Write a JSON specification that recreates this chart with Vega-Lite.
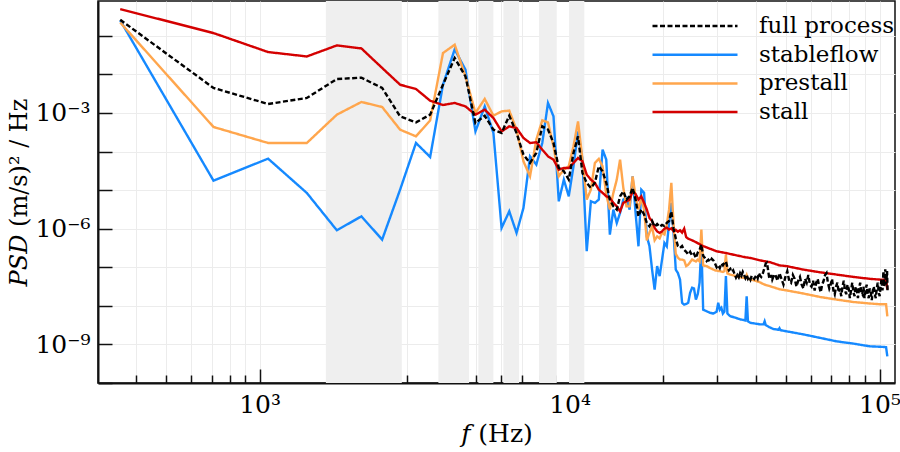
{
"$schema":"https://vega.github.io/schema/vega-lite/v6.json",
"autosize":{"type":"none"},
"width":797,"height":382,
"padding":{"left":98,"top":1,"right":5,"bottom":69},
"background":"white",
"config":{"view":{"stroke":"#111","strokeWidth":1.5},"font":"DejaVu Serif"},
"datasets":{
"bands":[{"a":1636,"b":2876},{"a":3774,"b":4740},{"a":5080,"b":5678},{"a":6116,"b":6873},{"a":7972,"b":9093},{"a":9963,"b":11160}],
"psd":[
{"s":"stableflow","f":355,"p":2.51e-1},{"s":"stableflow","f":710,"p":1.76e-5},{"s":"stableflow","f":1065,"p":6.55e-5},{"s":"stableflow","f":1420,"p":8.45e-6},{"s":"stableflow","f":1775,"p":9.10e-7},{"s":"stableflow","f":2130,"p":2.09e-6},{"s":"stableflow","f":2485,"p":5.22e-7},{"s":"stableflow","f":2840,"p":1.03e-5},{"s":"stableflow","f":3195,"p":1.67e-4},{"s":"stableflow","f":3550,"p":7.24e-5},{"s":"stableflow","f":3905,"p":5.41e-3},{"s":"stableflow","f":4260,"p":4.47e-2},{"s":"stableflow","f":4615,"p":1.32e-2},{"s":"stableflow","f":4970,"p":3.34e-4},{"s":"stableflow","f":5325,"p":1.48e-3},{"s":"stableflow","f":5680,"p":3.03e-4},{"s":"stableflow","f":6035,"p":1.05e-6},{"s":"stableflow","f":6390,"p":2.82e-6},{"s":"stableflow","f":6745,"p":7.78e-7},{"s":"stableflow","f":7100,"p":3.46e-6},{"s":"stableflow","f":7455,"p":7.52e-5},{"s":"stableflow","f":7810,"p":4.58e-5},{"s":"stableflow","f":8165,"p":1.67e-4},{"s":"stableflow","f":8520,"p":1.82e-3},{"s":"stableflow","f":8875,"p":8.17e-4},{"s":"stableflow","f":9230,"p":5.13e-6},{"s":"stableflow","f":9585,"p":1.87e-5},{"s":"stableflow","f":9940,"p":6.92e-6},{"s":"stableflow","f":10295,"p":4.14e-5},{"s":"stableflow","f":10650,"p":3.33e-4},{"s":"stableflow","f":11005,"p":6.17e-5},{"s":"stableflow","f":11360,"p":2.60e-7},{"s":"stableflow","f":11715,"p":5.13e-6},{"s":"stableflow","f":12070,"p":4.68e-6},{"s":"stableflow","f":12425,"p":5.68e-6},{"s":"stableflow","f":12780,"p":1.12e-4},{"s":"stableflow","f":13135,"p":6.17e-5},{"s":"stableflow","f":13490,"p":7.03e-7},{"s":"stableflow","f":13845,"p":3.13e-6},{"s":"stableflow","f":14200,"p":1.41e-6},{"s":"stableflow","f":14555,"p":2.57e-6},{"s":"stableflow","f":14910,"p":5.68e-6},{"s":"stableflow","f":15265,"p":6.31e-6},{"s":"stableflow","f":15620,"p":3.13e-6},{"s":"stableflow","f":15975,"p":2.28e-5},{"s":"stableflow","f":16330,"p":2.57e-6},{"s":"stableflow","f":16685,"p":3.50e-7},{"s":"stableflow","f":17040,"p":1.02e-5},{"s":"stableflow","f":17395,"p":8.51e-6},{"s":"stableflow","f":17750,"p":6.31e-7},{"s":"stableflow","f":18105,"p":3.55e-7},{"s":"stableflow","f":18460,"p":8.71e-8},{"s":"stableflow","f":18815,"p":2.63e-8},{"s":"stableflow","f":19170,"p":1.07e-7},{"s":"stableflow","f":19525,"p":5.89e-8},{"s":"stableflow","f":19880,"p":1.58e-7},{"s":"stableflow","f":20235,"p":4.27e-7},{"s":"stableflow","f":20590,"p":3.50e-7},{"s":"stableflow","f":20945,"p":1.41e-6},{"s":"stableflow","f":21300,"p":4.68e-6},{"s":"stableflow","f":21655,"p":7.76e-7},{"s":"stableflow","f":22010,"p":8.71e-8},{"s":"stableflow","f":22365,"p":7.08e-8},{"s":"stableflow","f":22720,"p":4.79e-8},{"s":"stableflow","f":23075,"p":1.20e-8},{"s":"stableflow","f":23430,"p":1.07e-8},{"s":"stableflow","f":23785,"p":1.12e-8},{"s":"stableflow","f":24140,"p":1.20e-8},{"s":"stableflow","f":24495,"p":2.19e-8},{"s":"stableflow","f":24850,"p":2.95e-8},{"s":"stableflow","f":25205,"p":2.82e-8},{"s":"stableflow","f":25560,"p":1.45e-8},{"s":"stableflow","f":25915,"p":2.00e-8},{"s":"stableflow","f":26270,"p":3.98e-8},{"s":"stableflow","f":26625,"p":3.98e-7},{"s":"stableflow","f":26980,"p":7.94e-9},{"s":"stableflow","f":27690,"p":7.24e-9},{"s":"stableflow","f":28400,"p":6.61e-9},{"s":"stableflow","f":29110,"p":6.31e-9},{"s":"stableflow","f":29820,"p":7.08e-9},{"s":"stableflow","f":30175,"p":1.20e-8},{"s":"stableflow","f":30530,"p":7.94e-9},{"s":"stableflow","f":30885,"p":8.91e-9},{"s":"stableflow","f":31240,"p":6.31e-9},{"s":"stableflow","f":31595,"p":7.08e-9},{"s":"stableflow","f":31950,"p":5.89e-8},{"s":"stableflow","f":32305,"p":6.31e-9},{"s":"stableflow","f":33015,"p":5.37e-9},{"s":"stableflow","f":34080,"p":5.01e-9},{"s":"stableflow","f":35500,"p":4.47e-9},{"s":"stableflow","f":36565,"p":4.27e-9},{"s":"stableflow","f":36920,"p":4.17e-9},{"s":"stableflow","f":37275,"p":1.78e-8},{"s":"stableflow","f":37630,"p":3.98e-9},{"s":"stableflow","f":38340,"p":3.63e-9},{"s":"stableflow","f":39760,"p":3.47e-9},{"s":"stableflow","f":41180,"p":3.31e-9},{"s":"stableflow","f":42245,"p":3.31e-9},{"s":"stableflow","f":42600,"p":3.98e-9},{"s":"stableflow","f":42955,"p":3.16e-9},{"s":"stableflow","f":44020,"p":2.82e-9},{"s":"stableflow","f":45440,"p":2.51e-9},{"s":"stableflow","f":47215,"p":2.40e-9},{"s":"stableflow","f":47570,"p":2.63e-9},{"s":"stableflow","f":47925,"p":2.34e-9},{"s":"stableflow","f":56780,"p":1.82e-9},{"s":"stableflow","f":64280,"p":1.48e-9},{"s":"stableflow","f":72780,"p":1.20e-9},{"s":"stableflow","f":82330,"p":1.05e-9},{"s":"stableflow","f":93190,"p":8.91e-10},{"s":"stableflow","f":100400,"p":8.71e-10},{"s":"stableflow","f":105000,"p":8.51e-10},{"s":"stableflow","f":106000,"p":4.90e-10},
{"s":"prestall","f":355,"p":2.22e-1},{"s":"prestall","f":710,"p":4.34e-4},{"s":"prestall","f":1065,"p":1.67e-4},{"s":"prestall","f":1420,"p":1.67e-4},{"s":"prestall","f":1775,"p":9.04e-4},{"s":"prestall","f":2130,"p":1.93e-3},{"s":"prestall","f":2485,"p":1.43e-3},{"s":"prestall","f":2840,"p":3.69e-4},{"s":"prestall","f":3195,"p":2.48e-4},{"s":"prestall","f":3550,"p":6.43e-4},{"s":"prestall","f":3905,"p":3.58e-2},{"s":"prestall","f":4260,"p":5.89e-2},{"s":"prestall","f":4615,"p":8.91e-3},{"s":"prestall","f":4970,"p":1.00e-3},{"s":"prestall","f":5325,"p":2.31e-3},{"s":"prestall","f":5680,"p":8.51e-4},{"s":"prestall","f":6035,"p":1.10e-3},{"s":"prestall","f":6390,"p":1.15e-3},{"s":"prestall","f":6745,"p":3.69e-4},{"s":"prestall","f":7100,"p":5.58e-5},{"s":"prestall","f":7455,"p":2.28e-5},{"s":"prestall","f":7810,"p":2.03e-4},{"s":"prestall","f":8165,"p":6.43e-4},{"s":"prestall","f":8520,"p":5.70e-4},{"s":"prestall","f":8875,"p":1.36e-4},{"s":"prestall","f":9230,"p":2.29e-5},{"s":"prestall","f":9585,"p":3.39e-5},{"s":"prestall","f":9940,"p":4.17e-5},{"s":"prestall","f":10295,"p":1.36e-4},{"s":"prestall","f":10650,"p":6.05e-4},{"s":"prestall","f":11005,"p":6.17e-5},{"s":"prestall","f":11360,"p":5.68e-6},{"s":"prestall","f":11715,"p":1.03e-5},{"s":"prestall","f":12070,"p":5.07e-5},{"s":"prestall","f":12425,"p":6.46e-5},{"s":"prestall","f":12780,"p":4.14e-5},{"s":"prestall","f":13135,"p":7.64e-6},{"s":"prestall","f":13490,"p":3.13e-6},{"s":"prestall","f":13845,"p":8.45e-6},{"s":"prestall","f":14200,"p":1.87e-5},{"s":"prestall","f":14555,"p":6.17e-5},{"s":"prestall","f":14910,"p":1.14e-5},{"s":"prestall","f":15265,"p":3.80e-6},{"s":"prestall","f":15620,"p":3.80e-6},{"s":"prestall","f":15975,"p":2.28e-5},{"s":"prestall","f":16330,"p":6.92e-6},{"s":"prestall","f":16685,"p":3.13e-6},{"s":"prestall","f":17040,"p":6.31e-6},{"s":"prestall","f":17395,"p":3.16e-6},{"s":"prestall","f":17750,"p":5.01e-7},{"s":"prestall","f":18105,"p":7.94e-7},{"s":"prestall","f":18460,"p":1.12e-6},{"s":"prestall","f":18815,"p":5.01e-7},{"s":"prestall","f":19170,"p":6.31e-7},{"s":"prestall","f":19525,"p":5.62e-7},{"s":"prestall","f":19880,"p":7.94e-7},{"s":"prestall","f":20235,"p":7.08e-7},{"s":"prestall","f":20590,"p":1.26e-6},{"s":"prestall","f":20945,"p":3.16e-6},{"s":"prestall","f":21300,"p":1.55e-5},{"s":"prestall","f":21655,"p":1.26e-6},{"s":"prestall","f":22010,"p":2.24e-7},{"s":"prestall","f":22365,"p":1.78e-7},{"s":"prestall","f":22720,"p":1.58e-7},{"s":"prestall","f":23075,"p":1.58e-7},{"s":"prestall","f":23430,"p":1.51e-7},{"s":"prestall","f":23785,"p":1.07e-7},{"s":"prestall","f":24140,"p":1.17e-7},{"s":"prestall","f":24850,"p":1.58e-7},{"s":"prestall","f":25560,"p":1.41e-7},{"s":"prestall","f":25915,"p":1.58e-7},{"s":"prestall","f":26270,"p":1.41e-7},{"s":"prestall","f":26625,"p":9.55e-7},{"s":"prestall","f":26980,"p":1.12e-7},{"s":"prestall","f":27690,"p":1.07e-7},{"s":"prestall","f":28400,"p":9.55e-8},{"s":"prestall","f":29465,"p":8.32e-8},{"s":"prestall","f":30530,"p":7.94e-8},{"s":"prestall","f":31240,"p":7.59e-8},{"s":"prestall","f":31595,"p":7.94e-8},{"s":"prestall","f":31950,"p":2.14e-7},{"s":"prestall","f":32305,"p":6.92e-8},{"s":"prestall","f":33015,"p":6.46e-8},{"s":"prestall","f":34080,"p":6.03e-8},{"s":"prestall","f":35500,"p":5.50e-8},{"s":"prestall","f":36920,"p":5.25e-8},{"s":"prestall","f":37275,"p":6.31e-8},{"s":"prestall","f":37630,"p":5.01e-8},{"s":"prestall","f":39050,"p":4.68e-8},{"s":"prestall","f":40825,"p":4.17e-8},{"s":"prestall","f":42600,"p":3.55e-8},{"s":"prestall","f":44730,"p":3.16e-8},{"s":"prestall","f":47570,"p":2.69e-8},{"s":"prestall","f":50190,"p":2.51e-8},{"s":"prestall","f":56780,"p":2.09e-8},{"s":"prestall","f":64280,"p":1.70e-8},{"s":"prestall","f":72780,"p":1.45e-8},{"s":"prestall","f":82330,"p":1.26e-8},{"s":"prestall","f":93190,"p":1.15e-8},{"s":"prestall","f":100400,"p":1.10e-8},{"s":"prestall","f":105000,"p":1.10e-8},{"s":"prestall","f":106000,"p":5.37e-9},
{"s":"stall","f":355,"p":4.94e-1},{"s":"stall","f":710,"p":1.18e-1},{"s":"stall","f":1065,"p":3.80e-2},{"s":"stall","f":1420,"p":2.92e-2},{"s":"stall","f":1775,"p":5.64e-2},{"s":"stall","f":2130,"p":4.72e-2},{"s":"stall","f":2485,"p":1.47e-2},{"s":"stall","f":2840,"p":5.41e-3},{"s":"stall","f":3195,"p":4.19e-3},{"s":"stall","f":3550,"p":2.08e-3},{"s":"stall","f":3905,"p":1.61e-3},{"s":"stall","f":4260,"p":1.82e-3},{"s":"stall","f":4615,"p":1.48e-3},{"s":"stall","f":4970,"p":9.04e-4},{"s":"stall","f":5325,"p":1.22e-3},{"s":"stall","f":5680,"p":7.41e-4},{"s":"stall","f":6035,"p":3.33e-4},{"s":"stall","f":6390,"p":4.50e-4},{"s":"stall","f":6745,"p":4.08e-4},{"s":"stall","f":7100,"p":2.25e-4},{"s":"stall","f":7455,"p":1.67e-4},{"s":"stall","f":7810,"p":1.74e-4},{"s":"stall","f":8165,"p":1.12e-4},{"s":"stall","f":8520,"p":7.52e-5},{"s":"stall","f":8875,"p":6.17e-5},{"s":"stall","f":9230,"p":3.39e-5},{"s":"stall","f":9585,"p":3.76e-5},{"s":"stall","f":9940,"p":3.76e-5},{"s":"stall","f":10295,"p":5.07e-5},{"s":"stall","f":10650,"p":6.82e-5},{"s":"stall","f":11005,"p":5.58e-5},{"s":"stall","f":11360,"p":2.51e-5},{"s":"stall","f":11715,"p":1.87e-5},{"s":"stall","f":12070,"p":1.54e-5},{"s":"stall","f":12425,"p":1.03e-5},{"s":"stall","f":12780,"p":8.51e-6},{"s":"stall","f":13135,"p":6.92e-6},{"s":"stall","f":13490,"p":6.31e-6},{"s":"stall","f":13845,"p":4.68e-6},{"s":"stall","f":14200,"p":3.80e-6},{"s":"stall","f":14555,"p":2.82e-6},{"s":"stall","f":14910,"p":4.68e-6},{"s":"stall","f":15265,"p":5.13e-6},{"s":"stall","f":15620,"p":5.68e-6},{"s":"stall","f":15975,"p":9.33e-6},{"s":"stall","f":16330,"p":7.94e-6},{"s":"stall","f":16685,"p":5.68e-6},{"s":"stall","f":17040,"p":6.92e-6},{"s":"stall","f":17395,"p":4.68e-6},{"s":"stall","f":17750,"p":3.16e-6},{"s":"stall","f":18105,"p":1.91e-6},{"s":"stall","f":18460,"p":1.58e-6},{"s":"stall","f":18815,"p":1.05e-6},{"s":"stall","f":19170,"p":8.51e-7},{"s":"stall","f":19525,"p":7.76e-7},{"s":"stall","f":19880,"p":8.51e-7},{"s":"stall","f":20235,"p":1.00e-6},{"s":"stall","f":20590,"p":1.07e-6},{"s":"stall","f":20945,"p":9.55e-7},{"s":"stall","f":21300,"p":1.02e-6},{"s":"stall","f":21655,"p":8.51e-7},{"s":"stall","f":22010,"p":9.33e-7},{"s":"stall","f":22365,"p":8.32e-7},{"s":"stall","f":22720,"p":9.12e-7},{"s":"stall","f":23075,"p":7.94e-7},{"s":"stall","f":23430,"p":1.00e-6},{"s":"stall","f":23785,"p":6.03e-7},{"s":"stall","f":24140,"p":5.50e-7},{"s":"stall","f":24850,"p":5.01e-7},{"s":"stall","f":25560,"p":4.47e-7},{"s":"stall","f":26270,"p":3.98e-7},{"s":"stall","f":26980,"p":3.55e-7},{"s":"stall","f":28400,"p":3.02e-7},{"s":"stall","f":29820,"p":2.60e-7},{"s":"stall","f":31950,"p":2.34e-7},{"s":"stall","f":34080,"p":2.09e-7},{"s":"stall","f":36920,"p":1.82e-7},{"s":"stall","f":38340,"p":1.74e-7},{"s":"stall","f":41180,"p":1.51e-7},{"s":"stall","f":44375,"p":1.35e-7},{"s":"stall","f":47570,"p":1.12e-7},{"s":"stall","f":50190,"p":1.07e-7},{"s":"stall","f":56780,"p":8.71e-8},{"s":"stall","f":64280,"p":7.41e-8},{"s":"stall","f":72780,"p":6.46e-8},{"s":"stall","f":82330,"p":5.62e-8},{"s":"stall","f":93190,"p":5.01e-8},{"s":"stall","f":100400,"p":4.79e-8},{"s":"stall","f":105000,"p":4.79e-8},{"s":"stall","f":106000,"p":2.63e-8},
{"s":"full process","f":355,"p":2.61e-1},{"s":"full process","f":710,"p":4.45e-3},{"s":"full process","f":1065,"p":1.71e-3},{"s":"full process","f":1420,"p":2.45e-3},{"s":"full process","f":1775,"p":7.60e-3},{"s":"full process","f":2130,"p":8.22e-3},{"s":"full process","f":2485,"p":4.45e-3},{"s":"full process","f":2840,"p":8.17e-4},{"s":"full process","f":3195,"p":5.70e-4},{"s":"full process","f":3550,"p":9.04e-4},{"s":"full process","f":3905,"p":5.41e-3},{"s":"full process","f":4260,"p":2.66e-2},{"s":"full process","f":4615,"p":8.91e-3},{"s":"full process","f":4970,"p":5.50e-4},{"s":"full process","f":5325,"p":8.51e-4},{"s":"full process","f":5680,"p":3.69e-4},{"s":"full process","f":6035,"p":3.03e-4},{"s":"full process","f":6390,"p":8.51e-4},{"s":"full process","f":6745,"p":3.02e-4},{"s":"full process","f":7100,"p":8.32e-5},{"s":"full process","f":7455,"p":5.07e-5},{"s":"full process","f":7810,"p":9.20e-5},{"s":"full process","f":8165,"p":4.50e-4},{"s":"full process","f":8520,"p":3.72e-4},{"s":"full process","f":8875,"p":1.67e-4},{"s":"full process","f":9230,"p":3.80e-5},{"s":"full process","f":9585,"p":3.09e-5},{"s":"full process","f":9940,"p":1.87e-5},{"s":"full process","f":10295,"p":9.20e-5},{"s":"full process","f":10650,"p":2.48e-4},{"s":"full process","f":11005,"p":2.79e-5},{"s":"full process","f":11360,"p":1.54e-5},{"s":"full process","f":11715,"p":1.14e-5},{"s":"full process","f":12070,"p":1.55e-5},{"s":"full process","f":12425,"p":4.14e-5},{"s":"full process","f":12780,"p":3.09e-5},{"s":"full process","f":13135,"p":1.55e-5},{"s":"full process","f":13490,"p":5.68e-6},{"s":"full process","f":13845,"p":3.80e-6},{"s":"full process","f":14200,"p":3.13e-6},{"s":"full process","f":14555,"p":6.92e-6},{"s":"full process","f":14910,"p":9.33e-6},{"s":"full process","f":15265,"p":5.68e-6},{"s":"full process","f":15620,"p":6.92e-6},{"s":"full process","f":15975,"p":1.15e-5},{"s":"full process","f":16330,"p":5.68e-6},{"s":"full process","f":16685,"p":2.09e-6},{"s":"full process","f":17040,"p":3.16e-6},{"s":"full process","f":17395,"p":2.34e-6},{"s":"full process","f":17750,"p":1.41e-6},{"s":"full process","f":18105,"p":1.15e-6},{"s":"full process","f":18460,"p":1.58e-6},{"s":"full process","f":18815,"p":1.12e-6},{"s":"full process","f":19170,"p":1.32e-6},{"s":"full process","f":19525,"p":1.12e-6},{"s":"full process","f":19880,"p":1.26e-6},{"s":"full process","f":20235,"p":1.17e-6},{"s":"full process","f":20590,"p":1.41e-6},{"s":"full process","f":20945,"p":1.58e-6},{"s":"full process","f":21300,"p":2.82e-6},{"s":"full process","f":21655,"p":1.00e-6},{"s":"full process","f":22010,"p":5.62e-7},{"s":"full process","f":22365,"p":3.55e-7},{"s":"full process","f":22720,"p":3.16e-7},{"s":"full process","f":23075,"p":3.55e-7},{"s":"full process","f":23430,"p":2.82e-7},{"s":"full process","f":23785,"p":2.51e-7},{"s":"full process","f":24140,"p":2.14e-7},{"s":"full process","f":24495,"p":2.51e-7},{"s":"full process","f":24850,"p":2.00e-7},{"s":"full process","f":25205,"p":2.24e-7},{"s":"full process","f":25560,"p":1.74e-7},{"s":"full process","f":25915,"p":2.40e-7},{"s":"full process","f":26270,"p":2.82e-7},{"s":"full process","f":26625,"p":3.89e-7},{"s":"full process","f":26980,"p":2.00e-7},{"s":"full process","f":27335,"p":1.74e-7},{"s":"full process","f":27690,"p":1.45e-7},{"s":"full process","f":28045,"p":1.58e-7},{"s":"full process","f":28400,"p":1.38e-7},{"s":"full process","f":28755,"p":1.66e-7},{"s":"full process","f":29110,"p":1.51e-7},{"s":"full process","f":29465,"p":1.26e-7},{"s":"full process","f":29820,"p":1.00e-7},{"s":"full process","f":30175,"p":1.12e-7},{"s":"full process","f":30530,"p":9.55e-8},{"s":"full process","f":30885,"p":1.26e-7},{"s":"full process","f":31240,"p":1.12e-7},{"s":"full process","f":31595,"p":1.32e-7},{"s":"full process","f":31950,"p":1.41e-7},{"s":"full process","f":32305,"p":1.00e-7},{"s":"full process","f":32660,"p":8.32e-8},{"s":"full process","f":33015,"p":9.12e-8},{"s":"full process","f":33370,"p":7.59e-8},{"s":"full process","f":33725,"p":8.32e-8},{"s":"full process","f":34080,"p":6.61e-8},{"s":"full process","f":34435,"p":5.37e-8},{"s":"full process","f":34790,"p":6.31e-8},{"s":"full process","f":35145,"p":5.50e-8},{"s":"full process","f":35500,"p":7.08e-8},{"s":"full process","f":35855,"p":6.03e-8},{"s":"full process","f":36210,"p":7.59e-8},{"s":"full process","f":36565,"p":6.31e-8},{"s":"full process","f":36920,"p":5.25e-8},{"s":"full process","f":37275,"p":6.31e-8},{"s":"full process","f":37630,"p":5.01e-8},{"s":"full process","f":37985,"p":5.62e-8},{"s":"full process","f":38340,"p":4.79e-8},{"s":"full process","f":38695,"p":6.03e-8},{"s":"full process","f":39050,"p":5.50e-8},{"s":"full process","f":39405,"p":5.01e-8},{"s":"full process","f":39760,"p":5.62e-8},{"s":"full process","f":40115,"p":6.31e-8},{"s":"full process","f":40470,"p":5.25e-8},{"s":"full process","f":40825,"p":7.08e-8},{"s":"full process","f":41180,"p":6.03e-8},{"s":"full process","f":41535,"p":5.62e-8},{"s":"full process","f":41890,"p":6.31e-8},{"s":"full process","f":42245,"p":7.94e-8},{"s":"full process","f":42600,"p":1.00e-7},{"s":"full process","f":42955,"p":1.26e-7},{"s":"full process","f":43310,"p":1.32e-7},{"s":"full process","f":43665,"p":8.91e-8},{"s":"full process","f":44020,"p":5.62e-8},{"s":"full process","f":44375,"p":5.01e-8},{"s":"full process","f":44730,"p":6.31e-8},{"s":"full process","f":45085,"p":4.79e-8},{"s":"full process","f":45440,"p":5.62e-8},{"s":"full process","f":45795,"p":6.61e-8},{"s":"full process","f":46150,"p":6.31e-8},{"s":"full process","f":46860,"p":4.47e-8},{"s":"full process","f":47570,"p":7.08e-8},{"s":"full process","f":48280,"p":5.01e-8},{"s":"full process","f":48990,"p":3.55e-8},{"s":"full process","f":49700,"p":5.62e-8},{"s":"full process","f":50410,"p":7.94e-8},{"s":"full process","f":51120,"p":4.47e-8},{"s":"full process","f":51830,"p":3.98e-8},{"s":"full process","f":52540,"p":6.31e-8},{"s":"full process","f":53250,"p":5.01e-8},{"s":"full process","f":53960,"p":3.16e-8},{"s":"full process","f":54670,"p":4.47e-8},{"s":"full process","f":55380,"p":5.62e-8},{"s":"full process","f":56090,"p":3.55e-8},{"s":"full process","f":56800,"p":2.82e-8},{"s":"full process","f":57510,"p":5.01e-8},{"s":"full process","f":58220,"p":3.98e-8},{"s":"full process","f":58930,"p":6.31e-8},{"s":"full process","f":59640,"p":3.55e-8},{"s":"full process","f":60350,"p":3.16e-8},{"s":"full process","f":61060,"p":4.47e-8},{"s":"full process","f":61770,"p":2.51e-8},{"s":"full process","f":62480,"p":3.98e-8},{"s":"full process","f":63190,"p":5.01e-8},{"s":"full process","f":63900,"p":3.16e-8},{"s":"full process","f":64610,"p":2.24e-8},{"s":"full process","f":65320,"p":3.55e-8},{"s":"full process","f":66030,"p":4.47e-8},{"s":"full process","f":66740,"p":6.31e-8},{"s":"full process","f":67450,"p":7.08e-8},{"s":"full process","f":68160,"p":3.98e-8},{"s":"full process","f":68870,"p":2.82e-8},{"s":"full process","f":69580,"p":3.55e-8},{"s":"full process","f":70290,"p":5.01e-8},{"s":"full process","f":71000,"p":2.51e-8},{"s":"full process","f":71710,"p":2.00e-8},{"s":"full process","f":72420,"p":3.16e-8},{"s":"full process","f":73130,"p":3.98e-8},{"s":"full process","f":73840,"p":2.24e-8},{"s":"full process","f":74550,"p":2.82e-8},{"s":"full process","f":75260,"p":1.78e-8},{"s":"full process","f":75970,"p":3.16e-8},{"s":"full process","f":76680,"p":4.47e-8},{"s":"full process","f":77390,"p":2.51e-8},{"s":"full process","f":78100,"p":2.00e-8},{"s":"full process","f":78810,"p":3.55e-8},{"s":"full process","f":79520,"p":2.82e-8},{"s":"full process","f":80230,"p":1.58e-8},{"s":"full process","f":80940,"p":2.51e-8},{"s":"full process","f":81650,"p":3.98e-8},{"s":"full process","f":82360,"p":2.24e-8},{"s":"full process","f":83070,"p":1.78e-8},{"s":"full process","f":83780,"p":3.16e-8},{"s":"full process","f":84490,"p":2.51e-8},{"s":"full process","f":85200,"p":1.58e-8},{"s":"full process","f":85910,"p":2.82e-8},{"s":"full process","f":86620,"p":3.98e-8},{"s":"full process","f":87330,"p":2.24e-8},{"s":"full process","f":88040,"p":2.00e-8},{"s":"full process","f":88750,"p":3.16e-8},{"s":"full process","f":89460,"p":1.58e-8},{"s":"full process","f":90170,"p":2.51e-8},{"s":"full process","f":90880,"p":3.55e-8},{"s":"full process","f":91590,"p":2.00e-8},{"s":"full process","f":92300,"p":1.58e-8},{"s":"full process","f":93010,"p":2.82e-8},{"s":"full process","f":93720,"p":2.24e-8},{"s":"full process","f":94430,"p":1.41e-8},{"s":"full process","f":95140,"p":2.51e-8},{"s":"full process","f":95850,"p":3.16e-8},{"s":"full process","f":96560,"p":2.00e-8},{"s":"full process","f":97270,"p":1.58e-8},{"s":"full process","f":97980,"p":2.82e-8},{"s":"full process","f":98690,"p":3.98e-8},{"s":"full process","f":99400,"p":2.24e-8},{"s":"full process","f":100110,"p":1.78e-8},{"s":"full process","f":100820,"p":3.16e-8},{"s":"full process","f":101530,"p":5.01e-8},{"s":"full process","f":102240,"p":2.51e-8},{"s":"full process","f":102950,"p":7.94e-8},{"s":"full process","f":103660,"p":3.16e-8},{"s":"full process","f":104370,"p":8.91e-8},{"s":"full process","f":105080,"p":3.55e-8},{"s":"full process","f":105790,"p":7.94e-8},{"s":"full process","f":106145,"p":2.51e-8}
]},
"layer":[
{"data":{"name":"bands"},
 "mark":{"type":"rect","color":"#efefef"},
 "encoding":{"x":{"field":"a","type":"quantitative","scale":{"type":"log","domain":[301,112200],"nice":false}},"x2":{"field":"b"}}},
{"data":{"name":"psd"},
 "mark":{"type":"line","strokeWidth":2.4,"clip":true},
 "encoding":{
  "x":{"field":"f","type":"quantitative",
   "scale":{"type":"log","domain":[301,112200],"nice":false},
   "axis":{"title":"𝑓 (Hz)","titleFont":"DejaVu Serif","titleFontSize":25,"titleFontWeight":"normal","titleColor":"#000","titlePadding":-2,
    "values":[400,500,600,700,800,900,1000,2000,3000,4000,5000,6000,7000,8000,9000,10000,20000,30000,40000,50000,60000,70000,80000,90000,100000],
    "labelExpr":"datum.value == 1000 ? '10³' : datum.value == 10000 ? '10⁴' : datum.value == 100000 ? '10⁵' : ''",
    "labelFont":"DejaVu Serif","labelFontSize":25,"labelColor":"#000","labelPadding":23,"labelFlush":false,"labelOverlap":false,
    "tickSize":{"condition":{"test":"datum.value == 1000 || datum.value == 10000 || datum.value == 100000","value":-14},"value":-8},
    "tickColor":"#111","tickWidth":1.5,
    "domainColor":"#111","domainWidth":2,
    "grid":true,"gridColor":"#ececec","gridWidth":1}},
  "y":{"field":"p","type":"quantitative",
   "scale":{"type":"log","domain":[1e-10,0.8],"nice":false},
   "axis":{"title":"𝑃𝑆𝐷  (m/s)² / Hz","titleFont":"DejaVu Serif","titleFontSize":24,"titleFontWeight":"normal","titleColor":"#000","titlePadding":3,
    "values":[1e-10,1e-9,1e-8,1e-7,1e-6,1e-5,1e-4,1e-3,1e-2,1e-1],
    "labelExpr":"datum.value == 1e-3 ? '10⁻³' : datum.value == 1e-6 ? '10⁻⁶' : datum.value == 1e-9 ? '10⁻⁹' : ''",
    "labelFont":"DejaVu Serif","labelFontSize":25,"labelColor":"#000","labelPadding":22,"labelOverlap":false,
    "tickSize":-14,"tickColor":"#111","tickWidth":1.5,
    "domainColor":"#111","domainWidth":2,
    "grid":true,"gridColor":"#ececec","gridWidth":1}},
  "color":{"field":"s","type":"nominal",
   "scale":{"domain":["full process","stableflow","prestall","stall"],"range":["#000000","#1589ff","#ffa64d","#d40000"]},
   "legend":{"title":null,"orient":"none","legendX":553,"legendY":11,"padding":0,"symbolType":"stroke","symbolSize":7225,"symbolStrokeWidth":2.5,"clipHeight":28,
    "labelFont":"DejaVu Serif","labelFontSize":23,"labelColor":"#000","labelOffset":20,"rowPadding":0.7,"labelLimit":300}},
  "strokeDash":{"field":"s","type":"nominal",
   "scale":{"domain":["full process","stableflow","prestall","stall"],"range":[[5,2.5],[1,0],[1,0],[1,0]]},
   "legend":{"title":null}}
 }}
]
}
